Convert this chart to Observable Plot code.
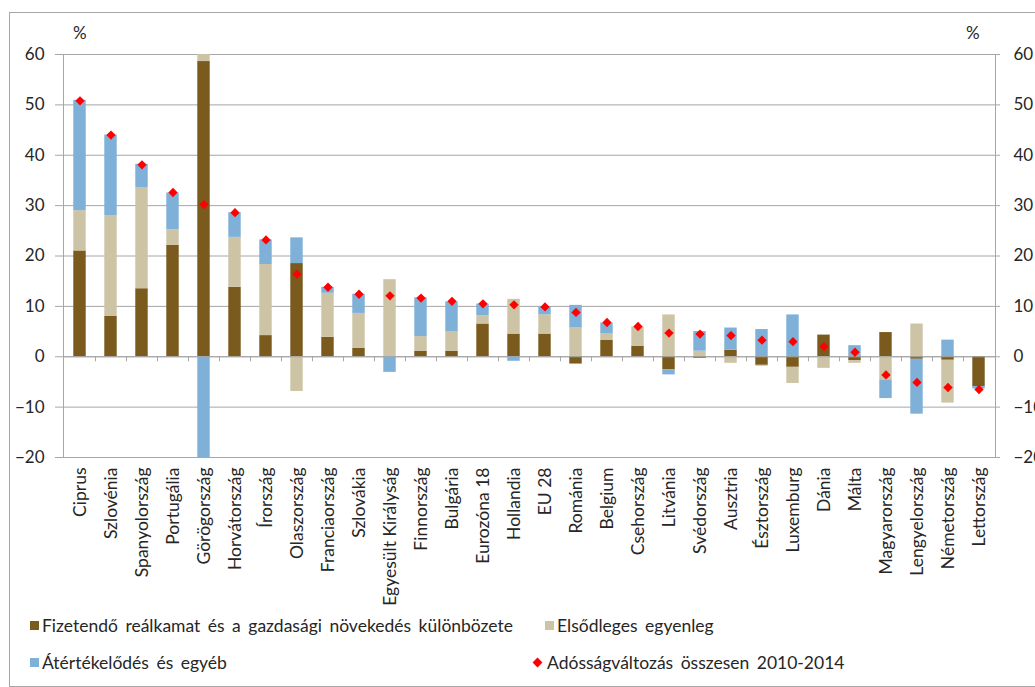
<!DOCTYPE html>
<html>
<head>
<meta charset="utf-8">
<script src="https://cdn.jsdelivr.net/npm/d3@7"></script>
<script src="https://cdn.jsdelivr.net/npm/@observablehq/plot@0.6"></script>
<style>
  html, body { margin: 0; padding: 0; background: #fff; overflow: hidden; }
  body { width: 1035px; height: 687px; position: relative; font-family: Lato, "Open Sans", sans-serif; color: #262626; }
  #box { position: absolute; left: 9px; top: 12px; width: 1060px; height: 673px; border: 1px solid #a6a6a6; }
  #chart { position: absolute; left: 0; top: 0; }
  .pct { position: absolute; font-size: 17px; }
  .legend { position: absolute; font-size: 17.5px; word-spacing: 3px; display: flex; align-items: center; white-space: nowrap; }
  .sw { display: inline-block; width: 9px; height: 9px; margin-right: 3px; }
  .dia { display: inline-block; width: 7px; height: 7px; background: #ff0000; transform: rotate(45deg); margin: 0 6px 0 3px; }
</style>
</head>
<body>
<div id="box"></div>
<div id="chart"></div>
<span class="pct" style="left:73px; top:22px;">%</span>
<span class="pct" style="left:966px; top:22px;">%</span>
<div id="legend"></div>
<script>
// Debt change decomposition 2010-2014, % of GDP
const countries = ["Ciprus", "Szlovénia", "Spanyolország", "Portugália", "Görögország", "Horvátország", "Írország", "Olaszország", "Franciaország", "Szlovákia", "Egyesült Királyság", "Finnország", "Bulgária", "Eurozóna 18", "Hollandia", "EU 28", "Románia", "Belgium", "Csehország", "Litvánia", "Svédország", "Ausztria", "Észtország", "Luxemburg", "Dánia", "Málta", "Magyarország", "Lengyelország", "Németország", "Lettország"];

const seriesNames = [
  "Fizetendő reálkamat és a gazdasági növekedés különbözete",
  "Elsődleges egyenleg",
  "Átértékelődés és egyéb"
];
const totalName = "Adósságváltozás összesen 2010-2014";

const interestGrowth = [21, 8, 13.5, 22.1, 58.6, 13.8, 4.2, 18.5, 3.85, 1.7, 0, 1.1, 1.1, 6.5, 4.5, 4.5, -1.45, 3.3, 2.1, -2.6, -0.3, 1.3, -1.7, -2.1, 4.3, -0.8, 4.8, -0.5, -0.7, -5.9];
const primaryBalance = [8, 20, 20.1, 3.1, 2.5, 9.9, 14.1, -6.9, 8.75, 6.9, 15.3, 2.9, 3.9, 1.65, 6.9, 3.8, 5.7, 1.2, 3.8, 8.3, 1.1, -1.3, -0.2, -3.2, -2.3, -0.5, -4.6, 6.5, -8.5, 0];
const revaluation = [21.9, 16, 4.6, 7.3, -30.9, 4.9, 4.9, 5.1, 1.2, 3.8, -3.1, 7.7, 5.9, 2.3, -0.9, 1.6, 4.5, 2.2, 0, -1.0, 3.9, 4.4, 5.4, 8.3, 0, 2.2, -3.7, -10.9, 3.3, -0.5];
const totalChange = [50.8, 44, 38.1, 32.6, 30.2, 28.6, 23.2, 16.4, 13.8, 12.4, 12.1, 11.65, 11.0, 10.5, 10.3, 9.9, 8.8, 6.8, 6.0, 4.7, 4.5, 4.2, 3.3, 3.0, 2.0, 0.9, -3.6, -5.1, -6.1, -6.5];

const yTicks = [-20, -10, 0, 10, 20, 30, 40, 50, 60];
const colors = ["#7b5a1e", "#cdc3a5", "#7fb0d8"];

const components = [interestGrowth, primaryBalance, revaluation];
const parts = countries.flatMap((c, i) =>
  components.map((arr, k) => ({country: c, series: seriesNames[k], value: arr[i]}))
);
const totals = countries.map((c, i) => ({country: c, value: totalChange[i]}));

const W = 1035, H = 615;
const mL = 63, mR = 40, mT = 54, mB = 158;
const step = (W - mL - mR) / countries.length;
const barW = 12.5;
const inset = (step - barW) / 2;
const axisColor = "#a6a6a6";
const textColor = "#262626";

const plot = Plot.plot({
  width: W,
  height: H,
  marginLeft: mL,
  marginRight: mR,
  marginTop: mT,
  marginBottom: mB,
  style: {fontFamily: "Lato, 'Open Sans', sans-serif", color: textColor, background: "transparent"},
  x: {type: "band", domain: countries, padding: 0},
  y: {domain: [-20, 60]},
  color: {domain: seriesNames, range: colors},
  marks: [
    Plot.gridY(yTicks, {stroke: axisColor, strokeOpacity: 1, insetLeft: -8, insetRight: -5}),
    Plot.frame({stroke: axisColor}),
    Plot.barY(parts, {x: "country", y: "value", fill: "series", insetLeft: inset, insetRight: inset, clip: true}),
    Plot.ruleY([0], {stroke: axisColor}),
    Plot.ruleX(countries.slice(1), {x: d => d, y1: 0, y2: -1, dx: -step / 2, stroke: axisColor}),
    Plot.dot(totals, {x: "country", y: "value", symbol: "diamond2", r: 4.2, fill: "#ff0000", stroke: null}),
    Plot.axisY(yTicks, {anchor: "left", tickSize: 0, tickPadding: 19, fontSize: 17, fill: textColor, label: null}),
    Plot.axisY(yTicks, {anchor: "right", tickSize: 0, tickPadding: 18, fontSize: 17, fill: textColor, label: null}),
    Plot.axisX({anchor: "bottom", tickSize: 0, tickPadding: 10, tickRotate: -90, fontSize: 17.5, fill: textColor, label: null})
  ]
});
document.getElementById("chart").appendChild(plot);

// legend
const legendItems = [
  {label: seriesNames[0], color: colors[0], x: 30, y: 625},
  {label: seriesNames[1], color: colors[1], x: 545, y: 625},
  {label: seriesNames[2], color: colors[2], x: 30, y: 662},
  {label: totalName, color: null, x: 531, y: 662}
];
const legend = document.getElementById("legend");
for (const it of legendItems) {
  const el = document.createElement("div");
  el.className = "legend";
  el.style.left = it.x + "px";
  el.style.top = (it.y - 12) + "px";
  el.style.height = "24px";
  const mark = document.createElement("span");
  if (it.color) { mark.className = "sw"; mark.style.background = it.color; }
  else { mark.className = "dia"; }
  el.appendChild(mark);
  const t = document.createElement("span");
  t.textContent = it.label;
  el.appendChild(t);
  legend.appendChild(el);
}
</script>
</body>
</html>
